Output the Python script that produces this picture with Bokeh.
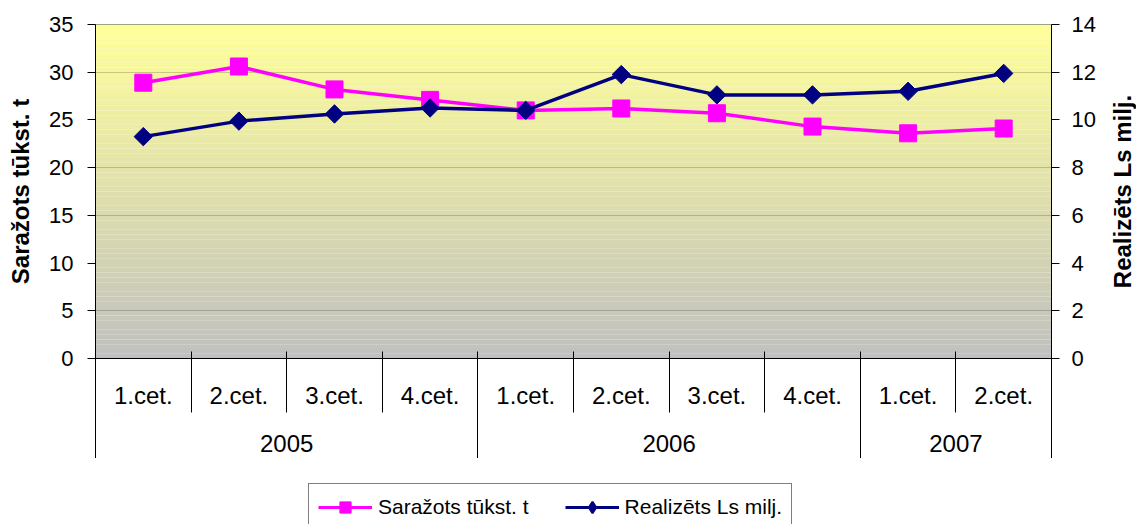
import numpy as np
from bokeh.plotting import figure
from bokeh.layouts import column, row
from bokeh.core.properties import value
from bokeh.models import (Range1d, LinearAxis, FixedTicker, Legend, LegendItem)
from bokeh.embed import file_html
from bokeh.resources import INLINE

# ---- data ----
quarters = ["1.cet.", "2.cet.", "3.cet.", "4.cet.",
            "1.cet.", "2.cet.", "3.cet.", "4.cet.",
            "1.cet.", "2.cet."]
years = ["2005", "2006", "2007"]
quarters_per_year = [4, 4, 2]
produced = [28.9, 30.6, 28.2, 27.1, 26.0, 26.2, 25.7, 24.3, 23.6, 24.1]   # Saražots tūkst. t
sold = [9.3, 9.95, 10.25, 10.5, 10.4, 11.9, 11.05, 11.05, 11.2, 11.95]     # Realizēts Ls milj.
left_ticks = [0, 5, 10, 15, 20, 25, 30, 35]
right_ticks = [0, 2, 4, 6, 8, 10, 12, 14]
left_title = "Saražots tūkst. t"
right_title = "Realizēts Ls milj."
series_names = ["Saražots tūkst. t", "Realizēts Ls milj."]

FONT = "Liberation Sans"
PINK = "#FF00FF"
NAVY = "#000080"
n = len(quarters)
xs = [i + 0.5 for i in range(n)]
bounds = [float(b) for b in np.cumsum([0] + quarters_per_year)]
year_centers = [(bounds[i] + bounds[i + 1]) / 2 for i in range(len(years))]

MAIN_W = 1108
p = figure(width=MAIN_W, height=458, x_range=Range1d(0, n),
           y_range=Range1d(left_ticks[0], left_ticks[-1]),
           output_backend="svg", toolbar_location=None,
           min_border_left=95, min_border_right=57, min_border_top=24,
           min_border_bottom=100)
p.extra_y_ranges = {"right": Range1d(right_ticks[0], right_ticks[-1])}
p.background_fill_color = "white"
p.border_fill_color = "white"
p.outline_line_color = "#808080"

# gradient background (yellow top -> grey bottom)
nb = 70
edges = np.linspace(left_ticks[0], left_ticks[-1], nb + 1)
top_c = np.array([255, 255, 153])
bot_c = np.array([192, 192, 192])
cols = []
for k in range(nb):
    t = (k + 0.5) / nb
    c = bot_c + (top_c - bot_c) * t
    cols.append("#%02x%02x%02x" % tuple(int(round(v)) for v in c))
p.quad(left=0, right=n, bottom=edges[:-1], top=edges[1:], fill_color=cols,
       line_color=None)

# grid
p.xgrid.visible = False
p.ygrid.ticker = FixedTicker(ticks=left_ticks)
p.ygrid.grid_line_color = "black"
p.ygrid.grid_line_width = 1

def style_value_axis(ax):
    ax.major_tick_out = 8
    ax.major_tick_in = 0
    ax.minor_tick_out = 0
    ax.minor_tick_in = 0
    ax.axis_line_color = "black"
    ax.major_tick_line_color = "black"
    ax.major_label_text_font = FONT
    ax.major_label_text_font_size = "22px"
    ax.major_label_text_color = "black"
    ax.axis_label_text_font = FONT
    ax.axis_label_text_font_size = "24px"
    ax.axis_label_text_font_style = "bold"
    ax.axis_label_text_color = "black"

# left axis
ly = p.yaxis[0]
ly.ticker = FixedTicker(ticks=left_ticks)
style_value_axis(ly)
ly.major_label_standoff = 14
ly.axis_label = left_title
ly.axis_label_standoff = 12

# right axis
ry = LinearAxis(y_range_name="right", ticker=FixedTicker(ticks=right_ticks))
style_value_axis(ry)
ry.major_label_standoff = 12
p.add_layout(ry, "right")

def style_cat_axis(ax, tick_out, standoff):
    ax.major_tick_out = 0
    ax.major_tick_in = 0
    ax.minor_tick_out = tick_out
    ax.minor_tick_line_color = "black"
    ax.major_label_text_font = FONT
    ax.major_label_text_font_size = "24px"
    ax.major_label_text_color = "black"
    ax.major_label_standoff = standoff

# category axis 1 (quarters)
ax1 = p.xaxis[0]
ax1.ticker = FixedTicker(ticks=xs, minor_ticks=[float(i) for i in range(n + 1)])
ax1.major_label_overrides = {x: q for x, q in zip(xs, quarters)}
style_cat_axis(ax1, 54, -31)
ax1.minor_tick_in = 7
ax1.axis_line_color = "black"

# category axis 2 (years)
ax2 = LinearAxis(ticker=FixedTicker(ticks=year_centers, minor_ticks=bounds))
ax2.major_label_overrides = {c: y for c, y in zip(year_centers, years)}
style_cat_axis(ax2, 57, -34)
ax2.minor_tick_in = 0
ax2.axis_line_color = None
p.add_layout(ax2, "below")

# series
r1 = p.line(xs, produced, line_color=PINK, line_width=3.5)
r2 = p.scatter(xs, produced, marker="square", size=17, fill_color=PINK,
               line_color=PINK)
r3 = p.line(xs, sold, line_color=NAVY, line_width=3.5, y_range_name="right")
r4 = p.scatter(xs, sold, marker="square", angle=np.pi / 4, size=13,
               fill_color=NAVY, line_color=NAVY, y_range_name="right")

# ---- legend strip below the chart ----
pl = figure(width=MAIN_W, height=66, x_range=Range1d(0, 1), y_range=Range1d(0, 1),
            output_backend="svg", toolbar_location=None,
            x_axis_type=None, y_axis_type=None, min_border=0)
pl.outline_line_color = None
pl.background_fill_color = "white"
pl.border_fill_color = "white"
pl.xgrid.visible = False
pl.ygrid.visible = False
# same series drawn in this strip fall outside its 0..1 window; only their legend glyphs show
l1 = pl.line(xs, produced, line_color=PINK, line_width=3)
m1 = pl.scatter(xs, produced, marker="square", fill_color=PINK, line_color=PINK)
l2 = pl.line(xs, sold, line_color=NAVY, line_width=3)
m2 = pl.scatter(xs, sold, marker="diamond", fill_color=NAVY, line_color=NAVY,
                line_width=2)

legend = Legend(items=[LegendItem(label=series_names[0], renderers=[l1, m1]),
                       LegendItem(label=series_names[1], renderers=[l2, m2])],
                orientation="horizontal", location=(213, -7),
                label_text_font=FONT, label_text_font_size="21px",
                label_text_color="black",
                glyph_width=54, glyph_height=28, label_standoff=6, spacing=36,
                padding=9, margin=0, border_line_color="black",
                border_line_width=1, background_fill_color="white",
                background_fill_alpha=1.0)
pl.add_layout(legend)

# ---- right axis title (reads bottom-to-top) ----
prt = figure(width=1136 - MAIN_W, height=382, x_range=Range1d(0, 1),
             y_range=Range1d(0, 1), output_backend="svg", toolbar_location=None,
             x_axis_type=None, y_axis_type=None, min_border=0)
prt.outline_line_color = None
prt.background_fill_color = "white"
prt.border_fill_color = "white"
prt.xgrid.visible = False
prt.ygrid.visible = False
prt.text(x=[0.5], y=[0.5], text=[right_title], angle=np.pi / 2,
         text_align="center", text_baseline="middle",
         text_font=value(FONT), text_font_size="24px",
         text_font_style="bold", text_color="black")

layout = row(column(p, pl, spacing=0), prt, spacing=0)
open("out.html", "w").write(file_html(layout, INLINE))
